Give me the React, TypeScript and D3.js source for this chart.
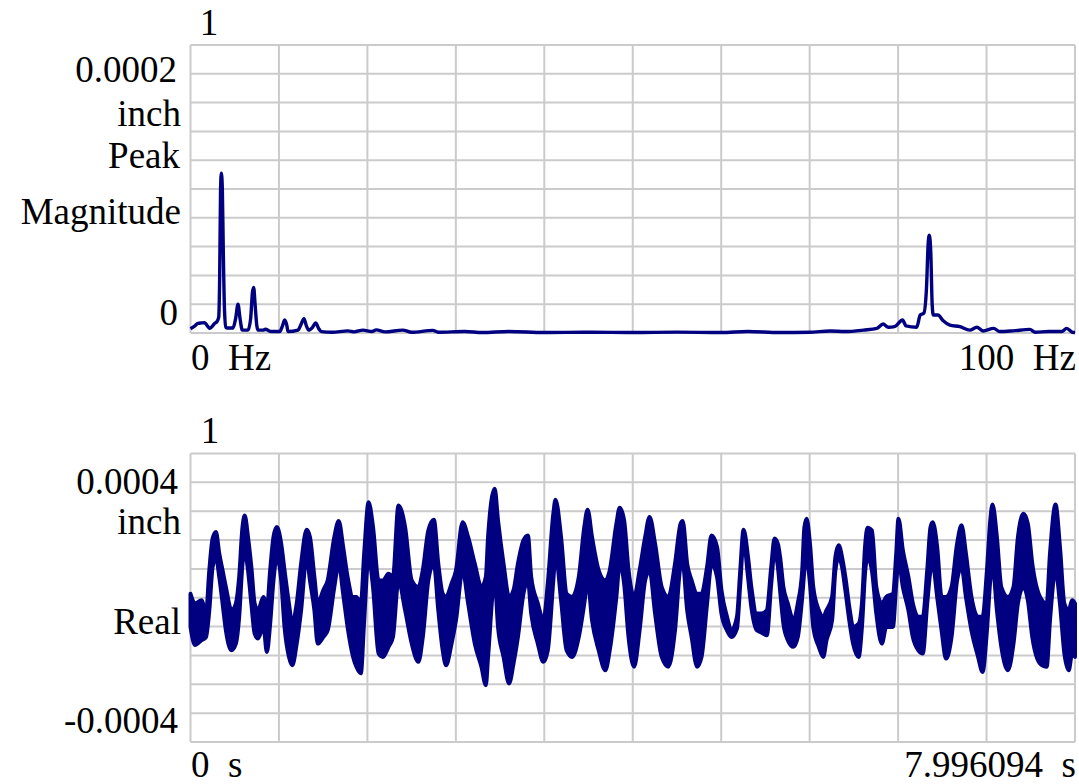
import React from 'react';
import * as d3 from 'd3';

// spectrum (Hz, peak magnitude in micro-inch)
const specHz = [0, 0.5, 0.85, 1.25, 1.6, 1.9, 2.17, 2.5, 2.73, 3.0, 3.19, 3.3, 3.4, 3.49, 3.6, 3.7, 3.85, 4.0, 4.16, 4.8, 5.1, 5.37, 5.6, 5.86, 6.5, 6.8, 7.0, 7.14, 7.3, 7.5, 7.63, 8.2, 8.46, 9.14, 10.08, 10.4, 10.65, 10.9, 11.02, 12.15, 12.5, 12.83, 13.1, 13.36, 13.8, 14.15, 14.5, 14.79, 16, 17.8, 18.5, 19.5, 20.5, 21, 22, 24, 25, 27.4, 28, 31, 33, 36, 40, 45, 50, 55, 60, 63, 66.6, 70, 72.3, 74, 76.1, 77.6, 78.3, 78.9, 79.6, 80.5, 80.9, 82.1, 82.5, 82.9, 83.2, 83.4, 83.53, 83.7, 83.85, 83.98, 84.5, 85.1, 85.85, 86.98, 88.1, 88.9, 89.6, 90.8, 91.5, 93, 94.9, 95.5, 97, 98.5, 99.06, 99.8, 100];
const specMag = [3, 5, 6.7, 7, 7.2, 5, 3.3, 5, 6.7, 8, 11, 40, 100, 111, 100, 60, 15, 4, 3.5, 3.5, 10, 20, 10, 2, 2, 10, 28, 31.7, 20, 5, 2, 2, 2.6, 1, 1, 5, 9, 5, 1, 2, 6, 10, 5, 2, 4, 7, 3, 1, 0.5, 1.5, 0.8, 2, 1, 2.2, 0.8, 2, 0.5, 1.8, 0.5, 1, 0.3, 1, 0.3, 0.5, 0.3, 0.6, 0.3, 1, 0.3, 0.5, 1.4, 1, 2, 3.2, 6.2, 4, 4.4, 9, 4.9, 4, 12.5, 13.7, 30, 62, 68, 55, 20, 12.5, 12.5, 8.5, 5.5, 4.4, 2, 4, 1.4, 3.2, 1, 1.5, 2.5, 0.5, 1, 1, 3.2, 0.3, 0.3];

// time signal (s), upper / lower extent of the trace in micro-inch
const sigT = [0, 0.04, 0.10, 0.14, 0.17, 0.20, 0.23, 0.26, 0.29, 0.32, 0.37, 0.41, 0.44, 0.47, 0.49, 0.52, 0.55, 0.58, 0.61, 0.66, 0.69, 0.72, 0.75, 0.78, 0.82, 0.85, 0.89, 0.92, 0.96, 1.00, 1.05, 1.08, 1.12, 1.15, 1.20, 1.24, 1.30, 1.34, 1.38, 1.42, 1.47, 1.50, 1.54, 1.57, 1.61, 1.65, 1.70, 1.74, 1.79, 1.83, 1.88, 1.94, 2.00, 2.06, 2.10, 2.15, 2.20, 2.24, 2.28, 2.31, 2.36, 2.40, 2.46, 2.51, 2.57, 2.63, 2.67, 2.69, 2.75, 2.78, 2.83, 2.88, 2.92, 2.96, 3.01, 3.05, 3.08, 3.14, 3.19, 3.23, 3.28, 3.30, 3.35, 3.40, 3.45, 3.51, 3.56, 3.59, 3.63, 3.69, 3.75, 3.79, 3.85, 3.88, 3.92, 3.96, 4.01, 4.06, 4.11, 4.15, 4.20, 4.26, 4.32, 4.38, 4.43, 4.45, 4.49, 4.53, 4.58, 4.62, 4.67, 4.71, 4.76, 4.80, 4.85, 4.89, 4.94, 4.97, 5.00, 5.04, 5.07, 5.12, 5.16, 5.21, 5.25, 5.28, 5.31, 5.33, 5.36, 5.40, 5.45, 5.49, 5.53, 5.55, 5.57, 5.60, 5.63, 5.68, 5.72, 5.75, 5.80, 5.83, 5.86, 5.89, 5.92, 5.96, 5.99, 6.04, 6.07, 6.10, 6.12, 6.16, 6.20, 6.25, 6.29, 6.35, 6.38, 6.40, 6.44, 6.49, 6.53, 6.58, 6.62, 6.66, 6.69, 6.71, 6.75, 6.79, 6.83, 6.88, 6.93, 6.97, 7.01, 7.06, 7.12, 7.16, 7.20, 7.23, 7.25, 7.29, 7.33, 7.39, 7.44, 7.48, 7.53, 7.57, 7.61, 7.68, 7.74, 7.77, 7.82, 7.86, 7.90, 7.94, 7.97, 7.996];
const sigHi = [14, -20, -9, -55, 95, 205, 228, 153, 95, 37, -43, -20, 72, 245, 285, 210, 107, -20, -43, 3, -43, 95, 210, 245, 187, 95, -20, -90, -20, 118, 236, 210, 72, -20, 26, 60, 210, 266, 176, 72, 3, 3, -20, 153, 331, 245, 60, 60, 83, 72, 320, 245, 60, 37, 95, 233, 270, 118, 14, 3, 49, 95, 262, 210, 118, 37, 72, 210, 378, 268, 118, 3, 26, 118, 199, 216, 72, -20, -78, 49, 291, 340, 210, 14, 3, 72, 245, 305, 210, 95, 60, 95, 256, 312, 268, 95, 3, 95, 210, 280, 187, 37, 3, 118, 256, 266, 118, 60, 14, 14, 107, 216, 176, 26, -66, -113, -66, 95, 236, 141, 37, -55, -55, -43, 107, 205, 187, 141, 37, -20, -78, -20, 95, 245, 274, 187, 37, -43, -66, -43, 3, 141, 182, 141, 72, -43, -101, -90, -20, 187, 243, 233, 37, -20, 3, 14, 153, 274, 164, 72, -20, -66, -66, 95, 245, 262, 176, 3, 3, 37, 187, 251, 153, 3, -66, -66, 95, 268, 323, 210, 37, 3, 37, 210, 291, 256, 118, 3, -20, 153, 323, 176, -20, -43, -9, -20];
const sigLo = [-101, -164, -147, -136, -43, 107, 141, 72, -20, -113, -182, -159, -66, 118, 164, 95, -20, -124, -141, -101, -188, -90, 60, 141, 60, -101, -205, -234, -159, -43, 141, 60, -43, -159, -136, -113, 37, 118, 14, -101, -205, -239, -262, -78, 141, 37, -193, -205, -170, -136, 60, -43, -159, -222, -136, 60, 118, -43, -182, -234, -159, -78, 95, -20, -159, -239, -303, -205, 60, -101, -205, -297, -228, -136, 14, 60, -55, -159, -222, -182, 60, 153, -9, -182, -205, -136, -20, 60, -78, -182, -251, -182, 3, 118, 49, -136, -239, -113, 60, 95, -55, -205, -239, -113, 107, 118, -43, -136, -239, -205, -20, 118, 72, -55, -113, -136, -107, 49, 200, 72, -32, -113, -120, -130, 49, 160, 107, 26, -90, -147, -170, -136, 3, 95, 141, 49, -101, -170, -205, -147, -78, 95, 141, 107, 26, -90, -159, -205, -101, 95, 141, 95, -55, -159, -101, -101, 49, 130, 37, -43, -136, -182, -193, -20, 95, 118, 3, -113, -211, -136, 60, 107, 3, -113, -205, -257, -113, 60, 118, -43, -170, -251, -159, -20, 37, -9, -136, -228, -239, -78, 95, -20, -193, -251, -193, -205];

const topYLabels = ['0.0002', 'inch', 'Peak', 'Magnitude', '0'];
const botYLabels = ['0.0004', 'inch', 'Real', '-0.0004'];
const topXLabels = ['0  Hz', '100  Hz'];
const botXLabels = ['0  s', '7.996094  s'];
const freqMax = 100;
const timeMax = 7.996094;

const font = '"Liberation Serif", "Times New Roman", serif';
const navy = '#000080';
const gridColor = '#cbcbcb';

function Grid({ xs, ys, x0, x1, y0, y1 }) {
  return (
    <g stroke={gridColor} strokeWidth={2}>
      {xs.map((x, i) => <line key={'v' + i} x1={x} x2={x} y1={y0} y2={y1} />)}
      {ys.map((y, i) => <line key={'h' + i} x1={x0} x2={x1} y1={y} y2={y} />)}
    </g>
  );
}

export default function App() {
  const left = 190.5, right = 1075;
  const top1 = 45, bot1 = 333;
  const top2 = 453.5, bot2 = 742;

  const xF = d3.scaleLinear([0, freqMax], [left, right]);
  const yF = d3.scaleLinear([0, 200], [bot1, top1]);
  const xT = d3.scaleLinear([0, timeMax], [left, right]);
  const yT = d3.scaleLinear([-500, 500], [bot2, top2]);

  const specLine = d3.line<number>()
    .x((_, i) => xF(specHz[i]))
    .y(d => yF(d))
    .curve(d3.curveMonotoneX);

  const band = d3.area<number>()
    .x((_, i) => xT(sigT[i]))
    .y0((_, i) => yT(sigLo[i]))
    .y1(d => yT(d))
    .curve(d3.curveMonotoneX);

  const tGrid = d3.range(11).map(i => xT((i * timeMax) / 10));

  // label baselines and right edges for the left column
  const topYBase = [82, 126, 168, 224, 325];
  const topYRight = [177, 181, 180, 181, 178];
  const botYBase = [494, 534, 634, 733];
  const botYRight = [178, 181, 181, 178];

  return (
    <svg width={1079} height={784} style={{ position: 'absolute', left: 0, top: 0, background: '#fff' }}
      fontFamily={font} fontSize={37}>
      <Grid xs={xF.ticks(10).map(xF)} ys={yF.ticks(10).map(yF)} x0={left} x1={right} y0={top1} y1={bot1} />
      <Grid xs={tGrid} ys={yT.ticks(10).map(yT)} x0={left} x1={right} y0={top2} y1={bot2} />

      <path d={specLine(specMag) || ''} fill="none" stroke={navy} strokeWidth={3.4} strokeLinejoin="round" />
      <path d={band(sigHi) || ''} fill={navy} stroke={navy} strokeWidth={4} strokeLinejoin="round" />

      <text x={209} y={35} textAnchor="middle">1</text>
      <text x={210} y={443} textAnchor="middle">1</text>

      {topYLabels.map((s, i) => (
        <text key={s + i} x={topYRight[i]} y={topYBase[i]} textAnchor="end">{s}</text>
      ))}
      {botYLabels.map((s, i) => (
        <text key={s + i} x={botYRight[i]} y={botYBase[i]} textAnchor="end">{s}</text>
      ))}

      <text x={191} y={370} style={{ whiteSpace: 'pre' }}>{topXLabels[0]}</text>
      <text x={1076} y={370} textAnchor="end" style={{ whiteSpace: 'pre' }}>{topXLabels[1]}</text>
      <text x={191} y={777} style={{ whiteSpace: 'pre' }}>{botXLabels[0]}</text>
      <text x={1076} y={777} textAnchor="end" style={{ whiteSpace: 'pre' }}>{botXLabels[1]}</text>
    </svg>
  );
}
